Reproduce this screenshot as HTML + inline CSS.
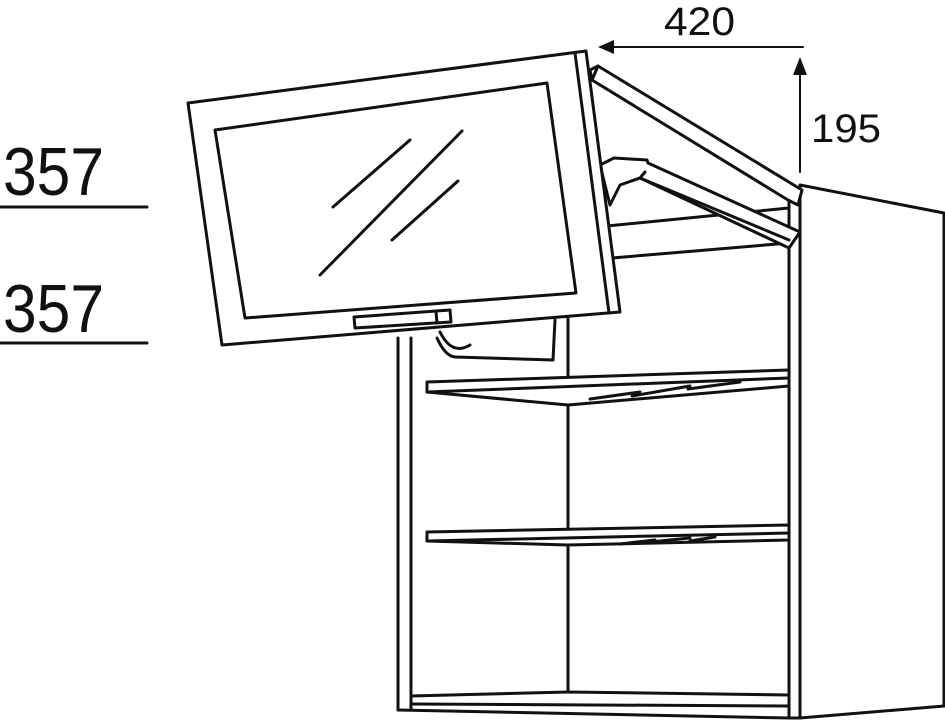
<!DOCTYPE html>
<html><head><meta charset="utf-8"><style>html,body{margin:0;padding:0;background:#fff}svg{display:block}</style></head>
<body>
<svg width="945" height="720" viewBox="0 0 945 720" xmlns="http://www.w3.org/2000/svg" font-family="Liberation Sans, sans-serif">
<g fill="none" stroke="#111" stroke-width="3" stroke-linejoin="round" stroke-linecap="round">
<!-- side panel -->
<polygon points="800,185 944,213 944,706 800,718" fill="#fff"/>
<line x1="789" y1="195" x2="789" y2="718"/>
<line x1="789" y1="718" x2="800" y2="718"/>
<!-- ceiling lines -->
<line x1="607" y1="226" x2="789" y2="208"/>
<line x1="612" y1="258" x2="789" y2="243"/>
<!-- left side of cabinet -->
<line x1="398" y1="338" x2="398" y2="710"/>
<line x1="411" y1="338" x2="411" y2="710"/>
<line x1="398" y1="710" x2="789" y2="718"/>
<!-- back corner vertical -->
<line x1="568" y1="300" x2="568" y2="378"/>
<line x1="568" y1="405" x2="568" y2="530"/>
<line x1="568" y1="545" x2="568" y2="692"/>
<!-- bottom -->
<polyline points="411,696 568,692 789,695"/>
<line x1="411" y1="704" x2="789" y2="706"/>
<!-- upper shelf -->
<polygon points="427,382 789,370 789,386 568,405 427,392" fill="#fff"/>
<line x1="427" y1="392" x2="789" y2="378"/>
<line x1="590" y1="399" x2="640" y2="392"/>
<line x1="632" y1="396" x2="690" y2="386"/>
<line x1="688" y1="389" x2="740" y2="382"/>
<!-- lower shelf -->
<polygon points="427,532 789,525 789,540 568,545 427,541" fill="#fff"/>
<line x1="427" y1="541" x2="789" y2="533"/>
<line x1="620" y1="544" x2="655" y2="540"/>
<line x1="650" y1="542" x2="690" y2="538"/>
<line x1="690" y1="541" x2="715" y2="537"/>
<!-- hinge mechanism under door -->
<path d="M437,338 Q445,356 455,357 L553,360 L555,320" fill="#fff"/>
<path d="M440,332 Q452,356 470,345"/>
<!-- stay arm top -->
<polygon points="590,70 598,66 802,190 798,205 788,200 592,80" fill="#fff"/>
<line x1="598" y1="66" x2="592" y2="80"/>
<!-- lower arm -->
<polygon points="600,165 614,158 647,160 648,163 800,232 789,248 640,178 620,185 610,205" fill="#fff"/>
<line x1="640" y1="178" x2="789" y2="240"/>
<line x1="640" y1="178" x2="645" y2="172"/>
<!-- door -->
<polygon points="188,103 586,51 620,312 222,345" fill="#fff"/>
<line x1="575" y1="53" x2="609" y2="313"/>
<polygon points="215,130 547,83 576,293 245,318"/>
<line x1="333" y1="207" x2="410" y2="140"/>
<line x1="320" y1="275" x2="462" y2="131"/>
<line x1="392" y1="240" x2="458" y2="181"/>
<!-- handle -->
<polygon points="354,317 450,310 451,322 355,328" fill="#fff"/>
<line x1="436" y1="312" x2="437" y2="323"/>
<!-- dimension lines -->
<line x1="610" y1="47" x2="803" y2="47" stroke-width="2"/>
<line x1="800" y1="72" x2="800" y2="172" stroke-width="2"/>
<line x1="0" y1="207" x2="147" y2="207" stroke-width="3"/>
<line x1="0" y1="343" x2="147" y2="343" stroke-width="3"/>
</g>
<polygon points="598,47 614,40 614,54" fill="#111"/>
<polygon points="800,57 793,75 807,75" fill="#111"/>
<g fill="#111">
<text x="664" y="35" font-size="40" textLength="71" lengthAdjust="spacingAndGlyphs">420</text>
<text x="811" y="142" font-size="40" textLength="70" lengthAdjust="spacingAndGlyphs">195</text>
<text x="3" y="195" font-size="68" textLength="101" lengthAdjust="spacingAndGlyphs">357</text>
<text x="3" y="332" font-size="68" textLength="101" lengthAdjust="spacingAndGlyphs">357</text>
</g>
</svg>
</body></html>
